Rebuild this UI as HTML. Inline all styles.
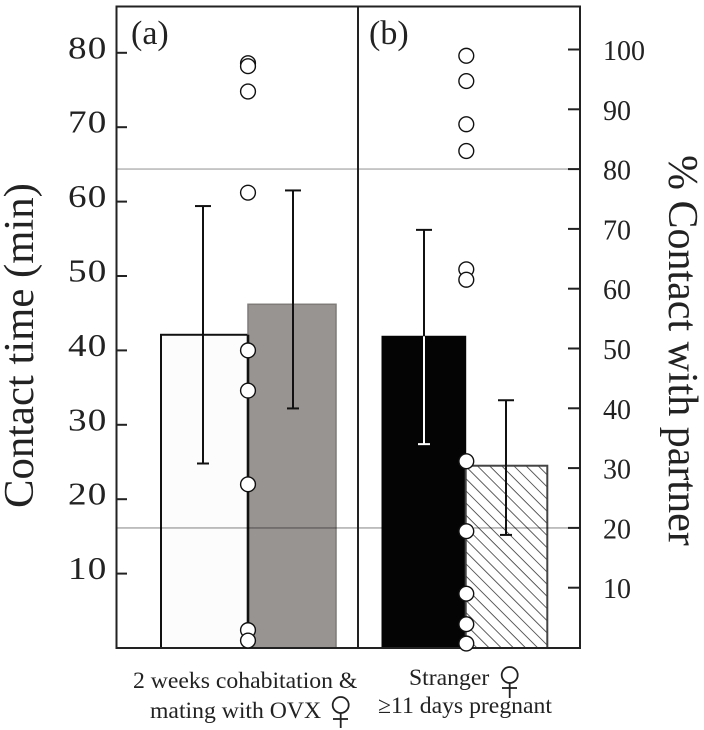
<!DOCTYPE html>
<html>
<head>
<meta charset="utf-8">
<style>
html,body{margin:0;padding:0;background:#fff;width:704px;height:730px;overflow:hidden}
svg{display:block}
text{font-family:"Liberation Serif",serif;fill:#222}
</style>
</head>
<body>
<svg id="chart" width="704" height="730" viewBox="0 0 704 730" xmlns="http://www.w3.org/2000/svg">
<defs>
<pattern id="hatch" width="8.6" height="8.6" patternUnits="userSpaceOnUse" patternTransform="rotate(45)">
<rect width="8.6" height="8.6" fill="#fff"/>
<line x1="0" y1="0" x2="8.6" y2="0" stroke="#444" stroke-width="1.7"/>
</pattern>
</defs>
<g id="layer-bars"></g>
<g id="layer-ref"></g>
<g id="layer-frame"></g>
<g id="layer-err"></g>
<g id="layer-points"></g>
<g id="layer-ticks"></g>
<text transform="translate(33,508) rotate(-90)" font-size="42.7">Contact time (min)</text>
<text transform="translate(669,155) rotate(90)" font-size="42">% Contact with partner</text>
<text x="131" y="44" font-size="34">(a)</text>
<text x="369" y="44" font-size="34">(b)</text>
<text x="133" y="688" font-size="23.7">2 weeks cohabitation &amp;</text>
<text x="150" y="718" font-size="23.7">mating with OVX</text>
<text x="409" y="685" font-size="23.7">Stranger</text>
<text x="378" y="713" font-size="23.7">≥11 days pregnant</text>
<g fill="none" stroke="#222" stroke-width="1.8">
<circle cx="340.7" cy="705" r="8"/><line x1="340.7" y1="713" x2="340.7" y2="728"/><line x1="333" y1="719" x2="348" y2="719"/>
</g>
<g fill="none" stroke="#222" stroke-width="1.8">
<circle cx="509.7" cy="675" r="8"/><line x1="509.7" y1="683" x2="509.7" y2="698"/><line x1="502" y1="688" x2="517" y2="688"/>
</g>
</svg>
<script>
var leftTicks = [10, 20, 30, 40, 50, 60, 70, 80];
var rightTicks = [10, 20, 30, 40, 50, 60, 70, 80, 90, 100];
var refLines = [20, 80];
var barNames = ['cohabitation-white', 'cohabitation-gray', 'stranger-black', 'stranger-hatched'];
var barValues = [42.1, 46.2, 41.9, 24.5];
var errLow = [24.8, 32.2, 27.4, 15.2];
var errHigh = [59.4, 61.5, 56.2, 33.3];
var pointsA = [78.6, 78.2, 74.8, 61.2, 40, 34.6, 22, 2.4, 1];
var pointsB = [79.6, 76.2, 70.4, 66.8, 50.9, 49.5, 25.1, 15.7, 7.3, 3.2, 0.6];

var NS = 'http://www.w3.org/2000/svg';
function yLeft(v) { return 648 - 7.44 * v; }
function yRight(v) { return 647.5 - 5.98 * v; }
function mk(tag, parent, attrs) {
  var el = document.createElementNS(NS, tag);
  for (var k in attrs) { el.setAttribute(k, attrs[k]); }
  document.getElementById(parent).appendChild(el);
  return el;
}
var barX0 = [161, 248, 382, 465.7];
var barX1 = [248, 336, 465.7, 547.3];
var barFill = ['#fcfcfc', '#989492', '#040404', 'url(#hatch)'];
var barStroke = ['#111', '#7e7b79', '#040404', '#444'];
var barSW = [2, 1.5, 1, 2];
var errX = [203, 293, 424, 506];
var baseY = yLeft(0);

barValues.forEach(function (v, i) {
  var top = yLeft(v);
  var r = mk('rect', 'layer-bars', { x: barX0[i], y: top, width: barX1[i] - barX0[i], height: baseY - top, fill: barFill[i], stroke: barStroke[i], 'stroke-width': barSW[i] });
  
  
});

var divider = mk('line', 'layer-bars', { x1: 248, x2: 248, y1: yLeft(barValues[0]), y2: baseY, stroke: '#111', 'stroke-width': 2.6 });



refLines.forEach(function (v) {
  var y = yRight(v);
  var segs = v === 20 ? [[117, 382, 'rgba(0,0,0,0.3)'], [474, 568, 'rgba(0,0,0,0.3)']] : [[117, 579, '#bcbcbc']];
  segs.forEach(function (s) {
    var l = mk('line', 'layer-ref', { x1: s[0], x2: s[1], y1: y, y2: y, stroke: s[2], 'stroke-width': 1.6 });
    
    
  });
});

var frame = mk('rect', 'layer-frame', { x: 116.5, y: 6.5, width: 463.5, height: 641.5, fill: 'none', stroke: '#222', 'stroke-width': 2 });


var mid = mk('line', 'layer-frame', { x1: 358, x2: 358, y1: 6, y2: 648, stroke: '#222', 'stroke-width': 2 });



errX.forEach(function (x, i) {
  var t = yLeft(errHigh[i]);
  var b = yLeft(errLow[i]);
  var top = yLeft(barValues[i]);
  var s = i === 2 ? '#fff' : '#111';
  var g = mk('g', 'layer-err', { 'stroke-width': 2 });
  
  
  function seg(x1, y1, x2, y2, c) {
    var l = document.createElementNS(NS, 'line');
    l.setAttribute('x1', x1);
    l.setAttribute('y1', y1);
    l.setAttribute('x2', x2);
    l.setAttribute('y2', y2);
    l.setAttribute('stroke', c);
    g.appendChild(l);
  }
  if (i === 2) {
    seg(x, t, x, top, '#111');
    seg(x, top, x, b, s);
  } else {
    seg(x, t, x, b, s);
  }
  seg(x - 8, t, x + 8, t, '#111');
  seg(x - 6, b, x + 6, b, s);
});

function drawPoints(vals, x, tag) {
  vals.forEach(function (v) {
    var c = mk('circle', 'layer-points', { cx: x, cy: yLeft(v), r: 7.4, fill: '#fff', stroke: '#111', 'stroke-width': 1.4 });
    
    
  });
}
drawPoints(pointsA, 248, 'a');
drawPoints(pointsB, 466.3, 'b');

leftTicks.forEach(function (v) {
  var y = yLeft(v);
  var l = mk('line', 'layer-ticks', { x1: 116, x2: 127, y1: y, y2: y, stroke: '#222', 'stroke-width': 2 });
  
  
  var t = mk('text', 'layer-ticks', { transform: 'translate(68,' + (y + 5.5) + ') scale(1.16,1)', 'font-size': 32, 'letter-spacing': 1 });
  t.textContent = v;
  
  
});
rightTicks.forEach(function (v) {
  var y = yRight(v);
  var l = mk('line', 'layer-ticks', { x1: 568, x2: 580, y1: y, y2: y, stroke: '#222', 'stroke-width': 2 });
  
  
  var t = mk('text', 'layer-ticks', { x: 603, y: y + 10.5, 'font-size': 28 });
  t.textContent = v;
  
  
});
</script>
</body>
</html>
